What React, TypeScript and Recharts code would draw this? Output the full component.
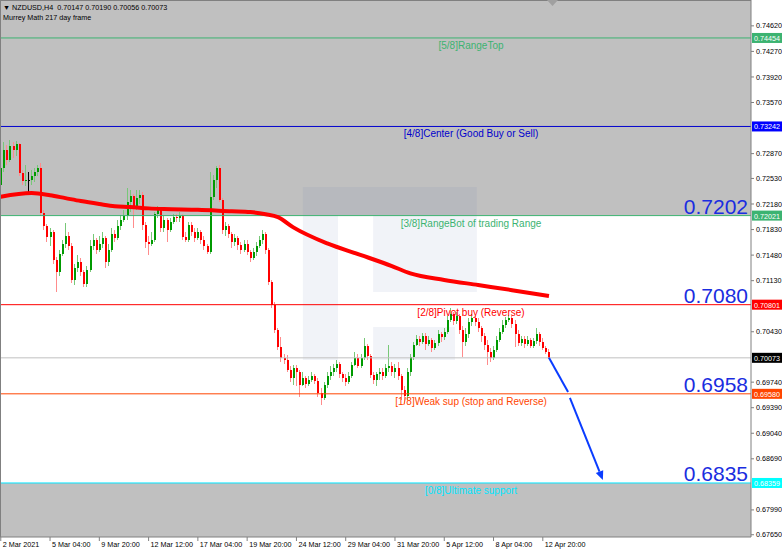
import React from "react";
import {
    ComposedChart,
    Bar,
    Line,
    XAxis,
    YAxis,
    ReferenceLine,
    ReferenceArea,
} from "recharts";

const W = 782;
const H = 552;
const FONT = "'Liberation Sans', Arial, sans-serif";

// time axis: bar index of each date label (H4 bars)
const timeTicks = [0, 16, 32, 48, 64, 80, 96, 112, 128, 144, 160, 176];
const timeLabels = [
    "2 Mar 2021", "5 Mar 04:00", "9 Mar 20:00", "12 Mar 12:00", "17 Mar 04:00", "19 Mar 20:00",
    "24 Mar 12:00", "29 Mar 04:00", "31 Mar 20:00", "5 Apr 12:00", "8 Apr 04:00", "12 Apr 20:00",
];

const priceTicks = [
    0.7462, 0.7427, 0.7392, 0.7357, 0.7287, 0.7253, 0.7218, 0.7183, 0.7148, 0.7113,
    0.7043, 0.6974, 0.6939, 0.6904, 0.6869, 0.6799, 0.6765,
];
const priceMin = 0.67619;
const priceMax = 0.74974;

// NZDUSD H4: open, high, low, close
const candles = [
    [0.7244, 0.7278, 0.7234, 0.7267], [0.7267, 0.7303, 0.7262, 0.7292], [0.7292, 0.7299, 0.7271, 0.7278],
    [0.7278, 0.7306, 0.7275, 0.7297], [0.7297, 0.7303, 0.7281, 0.7292], [0.7292, 0.7304, 0.7284, 0.7300],
    [0.7300, 0.7302, 0.7256, 0.7260], [0.7260, 0.7265, 0.7244, 0.7249], [0.7249, 0.7271, 0.7243, 0.7251],
    [0.7251, 0.7262, 0.7234, 0.7251], [0.7251, 0.7265, 0.7244, 0.7256], [0.7256, 0.7267, 0.7248, 0.7262],
    [0.7262, 0.7271, 0.7256, 0.7267], [0.7267, 0.7274, 0.7201, 0.7206], [0.7206, 0.7210, 0.7182, 0.7188],
    [0.7188, 0.7191, 0.7166, 0.7173], [0.7173, 0.7185, 0.7160, 0.7180], [0.7180, 0.7182, 0.7136, 0.7141],
    [0.7141, 0.7145, 0.7097, 0.7125], [0.7125, 0.7155, 0.7119, 0.7149], [0.7149, 0.7169, 0.7147, 0.7163],
    [0.7163, 0.7192, 0.7158, 0.7174], [0.7174, 0.7180, 0.7155, 0.7160], [0.7160, 0.7165, 0.7110, 0.7114],
    [0.7114, 0.7136, 0.7107, 0.7130], [0.7130, 0.7148, 0.7125, 0.7138], [0.7138, 0.7144, 0.7119, 0.7125],
    [0.7125, 0.7128, 0.7104, 0.7108], [0.7108, 0.7133, 0.7104, 0.7128], [0.7128, 0.7169, 0.7125, 0.7160],
    [0.7160, 0.7177, 0.7155, 0.7169], [0.7169, 0.7171, 0.7149, 0.7155], [0.7155, 0.7174, 0.7152, 0.7163],
    [0.7163, 0.7180, 0.7158, 0.7171], [0.7171, 0.7174, 0.7130, 0.7139], [0.7139, 0.7163, 0.7133, 0.7155],
    [0.7155, 0.7185, 0.7152, 0.7177], [0.7177, 0.7182, 0.7166, 0.7171], [0.7171, 0.7196, 0.7169, 0.7188],
    [0.7188, 0.7203, 0.7182, 0.7196], [0.7196, 0.7210, 0.7193, 0.7201], [0.7201, 0.7240, 0.7196, 0.7221],
    [0.7221, 0.7237, 0.7207, 0.7229], [0.7229, 0.7232, 0.7185, 0.7215], [0.7215, 0.7237, 0.7210, 0.7226],
    [0.7226, 0.7237, 0.7218, 0.7230], [0.7230, 0.7234, 0.7182, 0.7189], [0.7189, 0.7193, 0.7158, 0.7166],
    [0.7166, 0.7174, 0.7148, 0.7163], [0.7163, 0.7180, 0.7160, 0.7169], [0.7169, 0.7207, 0.7166, 0.7204],
    [0.7204, 0.7215, 0.7199, 0.7210], [0.7210, 0.7212, 0.7180, 0.7185], [0.7185, 0.7201, 0.7180, 0.7196],
    [0.7196, 0.7199, 0.7166, 0.7182], [0.7182, 0.7199, 0.7180, 0.7193], [0.7193, 0.7204, 0.7191, 0.7200],
    [0.7200, 0.7204, 0.7193, 0.7199], [0.7199, 0.7207, 0.7193, 0.7201], [0.7201, 0.7204, 0.7169, 0.7173],
    [0.7173, 0.7180, 0.7166, 0.7169], [0.7169, 0.7193, 0.7166, 0.7189], [0.7189, 0.7193, 0.7174, 0.7180],
    [0.7180, 0.7185, 0.7166, 0.7171], [0.7171, 0.7185, 0.7169, 0.7180], [0.7180, 0.7182, 0.7163, 0.7169],
    [0.7169, 0.7174, 0.7155, 0.7160], [0.7160, 0.7163, 0.7149, 0.7152], [0.7152, 0.7262, 0.7149, 0.7228],
    [0.7228, 0.7258, 0.7224, 0.7251], [0.7251, 0.7270, 0.7240, 0.7267], [0.7267, 0.7271, 0.7221, 0.7223],
    [0.7223, 0.7226, 0.7177, 0.7182], [0.7182, 0.7193, 0.7174, 0.7188], [0.7188, 0.7191, 0.7171, 0.7177],
    [0.7177, 0.7180, 0.7158, 0.7166], [0.7166, 0.7177, 0.7160, 0.7171], [0.7171, 0.7174, 0.7155, 0.7162],
    [0.7162, 0.7166, 0.7149, 0.7155], [0.7155, 0.7169, 0.7152, 0.7163], [0.7163, 0.7169, 0.7148, 0.7152],
    [0.7152, 0.7155, 0.7139, 0.7144], [0.7144, 0.7158, 0.7141, 0.7152], [0.7152, 0.7166, 0.7147, 0.7160],
    [0.7160, 0.7174, 0.7158, 0.7169], [0.7169, 0.7182, 0.7163, 0.7177], [0.7177, 0.7180, 0.7149, 0.7155],
    [0.7155, 0.7158, 0.7107, 0.7111], [0.7111, 0.7114, 0.7075, 0.7080], [0.7080, 0.7084, 0.7041, 0.7045],
    [0.7045, 0.7048, 0.7018, 0.7022], [0.7022, 0.7036, 0.7001, 0.7007], [0.7007, 0.7012, 0.6999, 0.7004],
    [0.7004, 0.7011, 0.6988, 0.6991], [0.6991, 0.6996, 0.6974, 0.6980], [0.6980, 0.6997, 0.6970, 0.6993],
    [0.6993, 0.6997, 0.6969, 0.6988], [0.6988, 0.6991, 0.6954, 0.6970], [0.6970, 0.6988, 0.6969, 0.6980],
    [0.6980, 0.6982, 0.6966, 0.6971], [0.6971, 0.6982, 0.6969, 0.6977], [0.6977, 0.6988, 0.6974, 0.6982],
    [0.6982, 0.6985, 0.6971, 0.6975], [0.6975, 0.6980, 0.6954, 0.6959], [0.6959, 0.6966, 0.6943, 0.6952],
    [0.6952, 0.6974, 0.6949, 0.6970], [0.6970, 0.6988, 0.6966, 0.6982], [0.6982, 0.6996, 0.6977, 0.6988],
    [0.6988, 0.6999, 0.6982, 0.6993], [0.6993, 0.7004, 0.6988, 0.6999], [0.6999, 0.7001, 0.6980, 0.6985],
    [0.6985, 0.6988, 0.6974, 0.6980], [0.6980, 0.6985, 0.6969, 0.6974], [0.6974, 0.6988, 0.6971, 0.6982],
    [0.6982, 0.7001, 0.6980, 0.6997], [0.6997, 0.7015, 0.6996, 0.7007], [0.7007, 0.7012, 0.6993, 0.6996],
    [0.6996, 0.7012, 0.6993, 0.7007], [0.7007, 0.7034, 0.7004, 0.7023], [0.7023, 0.7026, 0.7004, 0.7010],
    [0.7010, 0.7012, 0.6980, 0.6984], [0.6984, 0.6988, 0.6971, 0.6977], [0.6977, 0.6988, 0.6969, 0.6985],
    [0.6985, 0.6993, 0.6977, 0.6988], [0.6988, 0.6993, 0.6977, 0.6982], [0.6982, 0.6999, 0.6980, 0.6993],
    [0.6993, 0.7025, 0.6988, 0.6996], [0.6996, 0.7001, 0.6982, 0.6988], [0.6988, 0.6999, 0.6980, 0.6993],
    [0.6993, 0.7001, 0.6977, 0.6982], [0.6982, 0.6985, 0.6949, 0.6963], [0.6963, 0.6969, 0.6944, 0.6955],
    [0.6955, 0.6993, 0.6949, 0.6988], [0.6988, 0.7012, 0.6982, 0.7008], [0.7008, 0.7029, 0.7004, 0.7025],
    [0.7025, 0.7038, 0.7023, 0.7033], [0.7033, 0.7037, 0.7023, 0.7029], [0.7029, 0.7041, 0.7026, 0.7037],
    [0.7037, 0.7041, 0.7018, 0.7026], [0.7026, 0.7037, 0.7023, 0.7032], [0.7032, 0.7034, 0.7015, 0.7021],
    [0.7021, 0.7032, 0.7018, 0.7027], [0.7027, 0.7045, 0.7023, 0.7040], [0.7040, 0.7043, 0.7029, 0.7036],
    [0.7036, 0.7048, 0.7032, 0.7043], [0.7043, 0.7064, 0.7040, 0.7059], [0.7059, 0.7075, 0.7056, 0.7067],
    [0.7067, 0.7070, 0.7052, 0.7058], [0.7058, 0.7070, 0.7054, 0.7064], [0.7064, 0.7067, 0.7040, 0.7045],
    [0.7045, 0.7051, 0.7008, 0.7029], [0.7029, 0.7048, 0.7023, 0.7040], [0.7040, 0.7062, 0.7034, 0.7056],
    [0.7056, 0.7067, 0.7051, 0.7062], [0.7062, 0.7064, 0.7051, 0.7056], [0.7056, 0.7062, 0.7043, 0.7048],
    [0.7048, 0.7051, 0.7029, 0.7037], [0.7037, 0.7041, 0.7018, 0.7025], [0.7025, 0.7032, 0.6997, 0.7015],
    [0.7015, 0.7021, 0.7001, 0.7007], [0.7007, 0.7023, 0.7004, 0.7018], [0.7018, 0.7037, 0.7015, 0.7032],
    [0.7032, 0.7048, 0.7029, 0.7043], [0.7043, 0.7059, 0.7040, 0.7052], [0.7052, 0.7063, 0.7048, 0.7059],
    [0.7059, 0.7066, 0.7056, 0.7062], [0.7062, 0.7064, 0.7048, 0.7054], [0.7054, 0.7059, 0.7022, 0.7040],
    [0.7040, 0.7045, 0.7023, 0.7027], [0.7027, 0.7037, 0.7023, 0.7033], [0.7033, 0.7037, 0.7021, 0.7026],
    [0.7026, 0.7037, 0.7023, 0.7032], [0.7032, 0.7034, 0.7021, 0.7023], [0.7023, 0.7034, 0.7021, 0.7030],
    [0.7030, 0.7048, 0.7026, 0.7040], [0.7040, 0.7043, 0.7023, 0.7029], [0.7029, 0.7034, 0.7018, 0.7021],
    [0.7021, 0.7023, 0.7012, 0.70147], [0.70147, 0.70190, 0.70056, 0.70073],
];

// moving average (217) at some bars
const maBars = [0, 10, 16, 21, 26, 32, 37, 42, 48, 53, 64, 75, 81, 86, 90, 95, 106, 117, 127, 133, 144, 155, 166, 178];
const maValues = [
    0.7228, 0.7233, 0.7230, 0.7226, 0.7222, 0.7218, 0.7215, 0.7214, 0.7212, 0.7211, 0.7210, 0.7208,
    0.7207, 0.7204, 0.7200, 0.7186, 0.7164, 0.7148, 0.7133, 0.7123, 0.7114, 0.7107, 0.7100, 0.7092,
];

// Murrey Math levels
const levelPrices = [0.74454, 0.73242, 0.72021, 0.70801, 0.6958, 0.68359];
const levelColors = ["#3cb371", "#0000cd", "#3cb371", "#ff0000", "#ff4500", "#00e5ff"];
const levelBoxColors = ["#3cb371", "#0000ff", "#3cb371", "#ff0000", "#ff4500", "#00ffff"];
const levelTexts = [
    "[5/8]RangeTop",
    "[4/8]Center (Good Buy or Sell)",
    "[3/8]RangeBot of trading Range",
    "[2/8]Pivot buy (Reverse)",
    "[1/8]Weak sup (stop and Reverse)",
    "[0/8]Ultimate support",
];
const levelBig = ["", "", "0.7202", "0.7080", "0.6958", "0.6835"];
const lastPrice = 0.70073;

// forecast arrow: [bar, price] pairs
const arrowA = [[178, 0.70073], [184.2, 0.69605]];
const arrowB = [[184.8, 0.69523], [195.5, 0.684]];

// faint "R" watermark blocks: [barFrom, barTo, priceLow, priceHigh]
const watermark = [
    [98.1, 109.5, 0.70043, 0.72413],
    [109.5, 154.6, 0.72029, 0.72413],
    [120.9, 154.6, 0.70975, 0.72029],
    [120.9, 147.5, 0.70043, 0.70495],
];

const rows = candles.map(([o, h, l, c], i) => ({ i, range: [l, h], o, h, l, c, ma: null as number | null }));
maBars.forEach((b, k) => {
    rows[b].ma = maValues[k];
});

const Candle = (props: any) => {
    const { x, y, width, height, payload } = props;
    const { o, h, l, c } = payload;
    const top = Math.min(y, y + height);
    const span = Math.abs(height);
    const k = h > l ? span / (h - l) : 0;
    const yo = top + (h - o) * k;
    const yc = top + (h - c) * k;
    const cx = Math.round(x + width / 2) - 1;
    const flat = c === o;
    const up = c > o;
    const body = flat ? "#000000" : up ? "#009a00" : "#ff0000";
    const wick = flat ? "#000000" : up ? "#78c878" : "#ff8c8c";
    return (
        <g shapeRendering="crispEdges">
            <rect x={cx} y={top} width={1} height={Math.max(1, span)} fill={wick} />
            <rect x={cx} y={Math.min(yo, yc)} width={2} height={Math.max(1, Math.abs(yc - yo))} fill={body} />
        </g>
    );
};

const LevelLabel = (idx: number) => (p: any) => {
    const vb = p.viewBox;
    const y = vb.y;
    const right = vb.x + vb.width;
    return (
        <g style={{ fontFamily: FONT }}>
            <text x={vb.x + 471} y={y + 11} textAnchor="middle" fontSize={10} fill={levelColors[idx]}>
                {levelTexts[idx]}
            </text>
            {levelBig[idx] && (
                <text x={right - 3} y={y - 2} textAnchor="end" fontSize={21} fill="#1a2de0">
                    {levelBig[idx]}
                </text>
            )}
            <rect x={right + 1} y={y - 5} width={30} height={10} fill={levelBoxColors[idx]} />
            <text x={right + 3} y={y + 3} fontSize={7.2} fill="#ffffff">
                {levelPrices[idx].toFixed(5)}
            </text>
        </g>
    );
};

const LastLabel = (p: any) => {
    const vb = p.viewBox;
    const right = vb.x + vb.width;
    return (
        <g style={{ fontFamily: FONT }}>
            <rect x={right + 1} y={vb.y - 5} width={30} height={10} fill="#000000" />
            <text x={right + 3} y={vb.y + 3} fontSize={7.2} fill="#ffffff">
                {lastPrice.toFixed(5)}
            </text>
        </g>
    );
};

const ArrowShape = (props: any) => {
    const { x1, y1, x2, y2, head } = props;
    const a = Math.atan2(y2 - y1, x2 - x1);
    const len = 9;
    const wd = 4;
    const bx = x2 - len * Math.cos(a);
    const by = y2 - len * Math.sin(a);
    return (
        <g>
            <line x1={x1} y1={y1} x2={head ? bx : x2} y2={head ? by : y2} stroke="#0a3cff" strokeWidth={2} />
            {head && (
                <polygon
                    points={`${x2},${y2} ${bx - wd * Math.sin(a)},${by + wd * Math.cos(a)} ${bx + wd * Math.sin(a)},${by - wd * Math.cos(a)}`}
                    fill="#0a3cff"
                />
            )}
        </g>
    );
};

const TimeTick = (props: any) => {
    const { x, y, payload } = props;
    const k = timeTicks.indexOf(payload.value);
    return (
        <text x={x + 2} y={y + 6} fontSize={7.2} fill="#000000" style={{ fontFamily: FONT }}>
            {timeLabels[k]}
        </text>
    );
};

const App = () => {
    return (
        <div style={{ position: "absolute", left: 0, top: 0, width: W, height: H, background: "#fff" }}>
            <ComposedChart
                width={W}
                height={H}
                data={rows}
                margin={{ top: 0, right: 0, left: 0, bottom: 0 }}
                style={{ fontFamily: FONT }}
            >
                <XAxis
                    dataKey="i"
                    type="number"
                    domain={[-0.25, 243.6]}
                    allowDataOverflow
                    ticks={timeTicks}
                    interval={0}
                    tick={<TimeTick />}
                    tickSize={4}
                    tickMargin={0}
                    height={15}
                    stroke="#808080"
                />
                <YAxis
                    orientation="right"
                    type="number"
                    width={31}
                    domain={[priceMin, priceMax]}
                    allowDataOverflow
                    ticks={priceTicks}
                    interval={0}
                    tickFormatter={(v: number) => v.toFixed(5)}
                    tick={{ fontSize: 7.2, fill: "#000000" }}
                    tickSize={3}
                    tickMargin={2}
                    stroke="#808080"
                />

                <ReferenceArea y1={0.72021} y2={priceMax} fill="#c0c0c0" fillOpacity={1} stroke="none" />
                <ReferenceArea y1={priceMin} y2={0.68359} fill="#c0c0c0" fillOpacity={1} stroke="none" />
                {watermark.map(([x1, x2, y1, y2], k) => (
                    <ReferenceArea key={`w${k}`} x1={x1} x2={x2} y1={y1} y2={y2} fill="#5f7fb0" fillOpacity={0.09} stroke="none" />
                ))}

                {levelPrices.map((p, k) => (
                    <ReferenceLine key={`l${k}`} y={p} stroke={levelColors[k]} strokeWidth={1} label={LevelLabel(k)} />
                ))}
                <ReferenceLine y={lastPrice} stroke="#c0c0c0" strokeWidth={1} label={LastLabel} />

                <Bar dataKey="range" barSize={2} shape={(p: any) => <Candle {...p} />} isAnimationActive={false} />
                <Line
                    dataKey="ma"
                    type="monotone"
                    connectNulls
                    stroke="#ff0000"
                    strokeWidth={4}
                    dot={false}
                    activeDot={false}
                    isAnimationActive={false}
                />

                <ReferenceLine
                    segment={[{ x: arrowA[0][0], y: arrowA[0][1] }, { x: arrowA[1][0], y: arrowA[1][1] }]}
                    shape={(p: any) => <ArrowShape {...p} head={false} />}
                />
                <ReferenceLine
                    segment={[{ x: arrowB[0][0], y: arrowB[0][1] }, { x: arrowB[1][0], y: arrowB[1][1] }]}
                    shape={(p: any) => <ArrowShape {...p} head={true} />}
                />
            </ComposedChart>

            <div
                style={{
                    position: "absolute",
                    left: 0,
                    top: 0,
                    width: 750,
                    height: 536,
                    borderLeft: "1px solid #808080",
                    borderTop: "1px solid #808080",
                    pointerEvents: "none",
                }}
            />
            <div style={{ position: "absolute", left: 3, top: 3, fontFamily: FONT, fontSize: 7.2, lineHeight: "10px", color: "#000" }}>
                <div>▼ NZDUSD,H4&nbsp;&nbsp;0.70147 0.70190 0.70056 0.70073</div>
                <div>Murrey Math 217 day frame</div>
            </div>
            <svg style={{ position: "absolute", left: 547, top: 0 }} width={12} height={7}>
                <polygon points="0,0 11,0 5.5,6" fill="#a0a0a0" />
            </svg>
        </div>
    );
};

export default App;
